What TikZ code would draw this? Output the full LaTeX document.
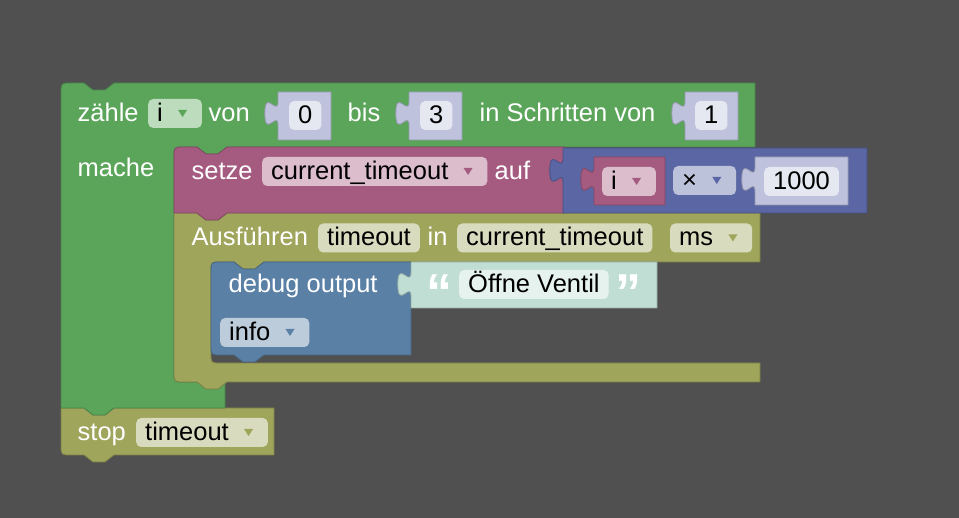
\documentclass[tikz,border=0pt]{standalone}
\usepackage{fontspec}
\setmainfont{Liberation Sans}
\usetikzlibrary{calc}

\definecolor{bgcol}{HTML}{505050}
\definecolor{loopcol}{HTML}{5BA55B}
\definecolor{varcol}{HTML}{A55B80}
\definecolor{mathcol}{HTML}{5B67A5}
\definecolor{timecol}{HTML}{9FA55B}
\definecolor{dbgcol}{HTML}{5B80A5}
\definecolor{numshd}{HTML}{BEC2DC}
\definecolor{txtshd}{HTML}{C0DED4}
\definecolor{loopfld}{HTML}{BDDBBD}
\definecolor{varfld}{HTML}{DBBDCC}
\definecolor{mathfld}{HTML}{BDC2DB}
\definecolor{numfld}{HTML}{E5E7F1}
\definecolor{timefld}{HTML}{D8DBBD}
\definecolor{dbgfld}{HTML}{BDCCDB}
\definecolor{txtfld}{HTML}{E6F2EE}

% puzzle tab on the left edge of a value block, going down from (x,y)
\newcommand{\ptab}[2]{(#1,#2) .. controls (#1,#2+16.5) and (#1-13.2,#2-13.2) .. (#1-13.2,#2+12.4) .. controls (#1-13.2,#2+38) and (#1,#2+8.3) .. (#1,#2+24.8)}
% room for the dropdown triangle, and the triangle itself
\newcommand{\dd}{\rule{30pt}{0pt}}
\newcommand{\dropmark}[2]{\fill[#2] ($(#1.east)+(-24,-3.5)$) -- ++(9,0) -- ++(-4.5,7) -- cycle;}

\begin{document}
\begin{tikzpicture}[x=1pt, y=-1pt,
  font=\fontsize{25.5}{30}\selectfont,
  blk/.style = {fill=#1, draw=#1!78!black, line width=0.8pt, line join=round},
  lbl/.style = {anchor=base west, inner sep=0pt, text=white},
  fld/.style = {anchor=west, fill=#1, rounded corners=5pt, inner xsep=9pt, inner ysep=0pt,
                text height=22.5pt, text depth=6.5pt, text=black},
  quot/.style = {anchor=north west, inner sep=0pt, text=white, font=\fontsize{52}{52}\selectfont\bfseries},
]
  \useasboundingbox[fill=bgcol] (0,0) rectangle (959,518);

  % stop block under the loop
  \path[blk=timecol] (61,408) -- (84,408) -- ++(9,7) -- ++(12,0) -- ++(9,-7) -- (274,408) -- (274,455)
     -- (114,455) -- ++(-9,7) -- ++(-12,0) -- ++(-9,-7) -- (71,455) .. controls (61,455) .. (61,445) -- cycle;

  % loop block (C shape)
  \path[blk=loopcol] (61,408) -- (61,93) .. controls (61,83) .. (71,83) -- (84,83) -- ++(9,7) -- ++(12,0) -- ++(9,-7)
     -- (755,83) -- (755,147) -- (227,147) -- ++(-9,7) -- ++(-12,0) -- ++(-9,-7) -- (184,147) .. controls (174,147) .. (174,157)
     -- (174,372) .. controls (174,382) .. (184,382) -- (225,382) -- (225,408)
     -- (114,408) -- ++(-9,7) -- ++(-12,0) -- ++(-9,-7) -- cycle;

  % timeout block (C shape)
  \path[blk=timecol] (174,213) -- (197,213) -- ++(9,7) -- ++(12,0) -- ++(9,-7) -- (760,213) -- (760,262)
     -- (264,262) -- ++(-9,7) -- ++(-12,0) -- ++(-9,-7) -- (221,262) .. controls (211,262) .. (211,272)
     -- (211,353) .. controls (211,363) .. (221,363) -- (760,363) -- (760,382)
     -- (227,382) -- ++(-9,7) -- ++(-12,0) -- ++(-9,-7) -- (184,382) .. controls (174,382) .. (174,372) -- cycle;

  % set variable block
  \path[blk=varcol] (174,157) .. controls (174,147) .. (184,147) -- (197,147) -- ++(9,7) -- ++(12,0) -- ++(9,-7)
     -- (565,147) -- (565,213) -- (227,213) -- ++(-9,7) -- ++(-12,0) -- ++(-9,-7) -- (174,213) -- cycle;

  % multiply block with its two inputs
  \path[blk=mathcol] (563,148) -- \ptab{563}{158} -- (563,213) -- (867,213) -- (867,148) -- cycle;
  \path[blk=varcol]  (594,157) -- \ptab{594}{167} -- (594,205) -- (665,205) -- (665,157) -- cycle;
  \path[blk=numshd]  (755,157) -- \ptab{755}{167} -- (755,205) -- (848,205) -- (848,157) -- cycle;

  % number shadows of the loop
  \foreach \x in {278,409,685}
    \path[blk=numshd] (\x,92) -- \ptab{\x}{101} -- (\x,140) -- (\x+53,140) -- (\x+53,92) -- cycle;

  % debug block and its text
  \path[blk=dbgcol] (211,272) .. controls (211,262) .. (221,262) -- (234,262) -- ++(9,7) -- ++(12,0) -- ++(9,-7)
     -- (411,262) -- (411,355) -- (264,355) -- ++(-9,7) -- ++(-12,0) -- ++(-9,-7) -- (221,355) .. controls (211,355) .. (211,345) -- cycle;
  \path[blk=txtshd] (411,262) -- \ptab{411}{272} -- (411,308) -- (657,308) -- (657,262) -- cycle;

  % loop row
  \node[lbl]         (zaehle)   at (77.5,121.5) {zähle};
  \node[fld=loopfld] (varI)     at (148,113.5)  {i\dd};
  \node[lbl]         (von)      at (208.5,121.5) {von};
  \node[fld=numfld]  (nNull)    at (289,115.5)  {0};
  \node[lbl]         (bis)      at (347.5,121.5) {bis};
  \node[fld=numfld]  (nDrei)    at (420,115.5)  {3};
  \node[lbl]         (schritte) at (479.5,121.5) {in Schritten von};
  \node[fld=numfld]  (nEins)    at (695,115.5)  {1};
  \node[lbl]         (mache)    at (77.5,177)   {mache};

  % set row
  \node[lbl]         (setze)    at (191.5,179.5) {setze};
  \node[fld=varfld]  (curTO)    at (262,171.5)  {current\_timeout\dd};
  \node[lbl]         (auf)      at (494.5,179.5) {auf};
  \node[fld=varfld]  (mulI)     at (602,181.5)  {i\dd};
  \node[fld=mathfld] (mulOp)    at (673,180.5)  {×\dd};
  \node[fld=numfld]  (nTausend) at (764,181.5)  {1000};

  % timeout row
  \node[lbl]         (ausf)     at (191.5,246)  {Ausführen};
  \node[fld=timefld] (toName)   at (318,238)    {timeout};
  \node[lbl]         (inLbl)    at (427.5,246)  {in};
  \node[fld=timefld] (curTO2)   at (457,238)    {current\_timeout};
  \node[fld=timefld] (msUnit)   at (670,238)    {ms\dd};

  % debug rows
  \node[lbl]         (debug)    at (228.5,292.5) {debug output};
  \node[quot]        (qOpen)    at (426,275)    {“};
  \node[fld=txtfld]  (ventil)   at (459,284.5)  {Öffne Ventil};
  \node[quot]        (qClose)   at (615,275)    {”};
  \node[fld=dbgfld]  (infoLvl)  at (220,332.5)  {info\dd};

  % stop row
  \node[lbl]         (stop)     at (77.5,440.5) {stop};
  \node[fld=timefld] (stopTO)   at (136,432.5)  {timeout\dd};

  \foreach \n/\c in {varI/loopcol, curTO/varcol, mulI/varcol, mulOp/mathcol, msUnit/timecol, infoLvl/dbgcol, stopTO/timecol}
    {\dropmark{\n}{\c}}
\end{tikzpicture}
\end{document}
